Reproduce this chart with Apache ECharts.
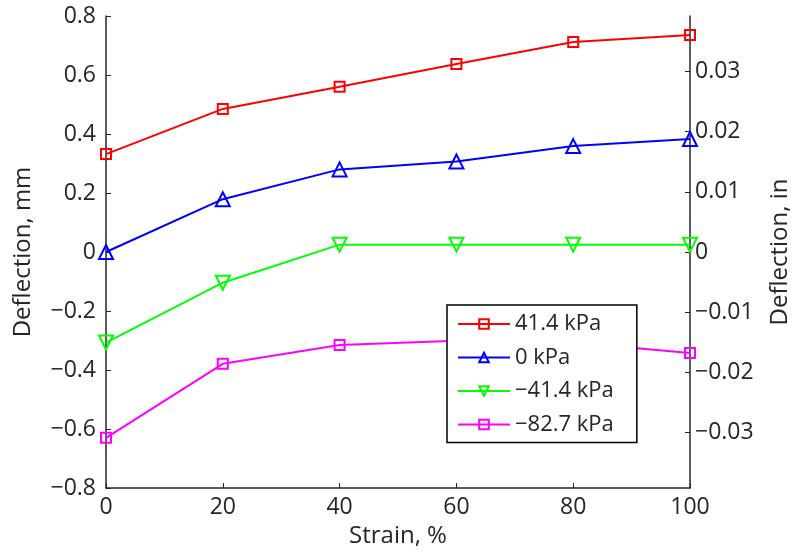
<!DOCTYPE html>
<html>
<head>
<meta charset="utf-8">
<script src="https://cdn.jsdelivr.net/npm/echarts@6/dist/echarts.min.js"></script>
<style>
  html, body { margin: 0; padding: 0; background: #fff; }
  #chart { width: 793px; height: 554px; }
</style>
</head>
<body>
<div id="chart"></div>
<script>
// Strain levels (%)
const strain = [0, 20, 40, 60, 80, 100];

// Deflection (mm) under each confining pressure
const defl_p41 = [0.332, 0.485, 0.560, 0.637, 0.712, 0.736];
const defl_p0 = [0.000, 0.179, 0.280, 0.307, 0.359, 0.383];
const defl_m41 = [-0.307, -0.104, 0.025, 0.025, 0.025, 0.025];
const defl_m83 = [-0.630, -0.379, -0.315, -0.301, -0.307, -0.342];

const seriesNames = ['41.4 kPa', '0 kPa', '\u221241.4 kPa', '\u221282.7 kPa'];

// Secondary axis tick values (in)
const inchTicks = [-0.03, -0.02, -0.01, 0, 0.01, 0.02, 0.03];

const FONT = '"Open Sans", "Noto Sans", sans-serif';
const TXT = '#262626';
const TICK_FS = 23;
const NAME_FS = 24;

function minus(s) { return s.replace('-', '\u2212'); }

function pairs(vals) { return strain.map((x, i) => [x, vals[i]]); }

function lineSeries(name, vals, color, symbol, size, rotate) {
  return {
    name: name,
    type: 'line',
    data: pairs(vals),
    symbol: symbol,
    symbolSize: size,
    symbolRotate: rotate || 0,
    lineStyle: { color: color, width: 2 },
    itemStyle: { color: 'transparent', borderColor: color, borderWidth: 2 },
    emphasis: { disabled: true },
    animation: false
  };
}

const chart = echarts.init(document.getElementById('chart'), null, { renderer: 'canvas' });

chart.setOption({
  animation: false,
  backgroundColor: '#fff',
  textStyle: { fontFamily: FONT, color: TXT },
  grid: {
    left: 106, right: 103, top: 16, bottom: 66,
    containLabel: false,
    outerBoundsMode: 'none'
  },
  legend: {
    left: 447,
    top: 305,
    orient: 'vertical',
    backgroundColor: '#fff',
    borderColor: '#000',
    borderWidth: 1.5,
    borderRadius: 0,
    padding: [7, 23, 6, 10],
    itemGap: 9.5,
    itemWidth: 52,
    itemHeight: 12,
    textStyle: { fontFamily: FONT, fontSize: 22, color: TXT, lineHeight: 24 },
    data: seriesNames
  },
  xAxis: {
    type: 'value',
    min: 0,
    max: 100,
    interval: 20,
    name: 'Strain, %',
    nameLocation: 'middle',
    nameGap: 35,
    nameTextStyle: { fontFamily: FONT, fontSize: NAME_FS, color: TXT },
    axisLine: { show: true, onZero: false, lineStyle: { color: TXT, width: 1.5 } },
    axisTick: { show: true, inside: true, length: 5, lineStyle: { color: TXT, width: 1 } },
    axisLabel: { fontFamily: FONT, fontSize: TICK_FS, color: TXT, margin: 8 },
    splitLine: { show: false }
  },
  yAxis: [
    {
      type: 'value',
      position: 'left',
      min: -0.8,
      max: 0.8,
      interval: 0.2,
      name: 'Deflection, mm',
      nameLocation: 'middle',
      nameGap: 71,
      nameTextStyle: { fontFamily: FONT, fontSize: NAME_FS, color: TXT },
      axisLine: { show: true, onZero: false, lineStyle: { color: TXT, width: 1.5 } },
      axisTick: { show: true, inside: true, length: 5, lineStyle: { color: TXT, width: 1 } },
      axisLabel: {
        fontFamily: FONT, fontSize: TICK_FS, color: TXT, margin: 10,
        formatter: v => Math.abs(v) < 1e-9 ? '0' : minus(v.toFixed(1))
      },
      splitLine: { show: false }
    },
    {
      type: 'value',
      position: 'right',
      min: -0.03925,
      max: 0.03925,
      alignTicks: false,
      name: 'Deflection, in',
      nameLocation: 'middle',
      nameGap: 78,
      nameTextStyle: { fontFamily: FONT, fontSize: NAME_FS, color: TXT },
      axisLine: { show: true, onZero: false, lineStyle: { color: TXT, width: 1.5 } },
      axisTick: { show: true, inside: true, length: 5, customValues: inchTicks, lineStyle: { color: TXT, width: 1 } },
      axisLabel: {
        fontFamily: FONT, fontSize: TICK_FS, color: TXT, margin: 5,
        customValues: inchTicks,
        formatter: v => Math.abs(v) < 1e-9 ? '0' : minus(v.toFixed(2))
      },
      splitLine: { show: false }
    }
  ],
  series: [
    lineSeries(seriesNames[0], defl_p41, '#ff0000', 'rect', 10),
    lineSeries(seriesNames[1], defl_p0, '#0000ff', 'triangle', 14),
    lineSeries(seriesNames[2], defl_m41, '#00ff00', 'triangle', 14, 180),
    lineSeries(seriesNames[3], defl_m83, '#ff00ff', 'rect', 10)
  ]
});
</script>
</body>
</html>
